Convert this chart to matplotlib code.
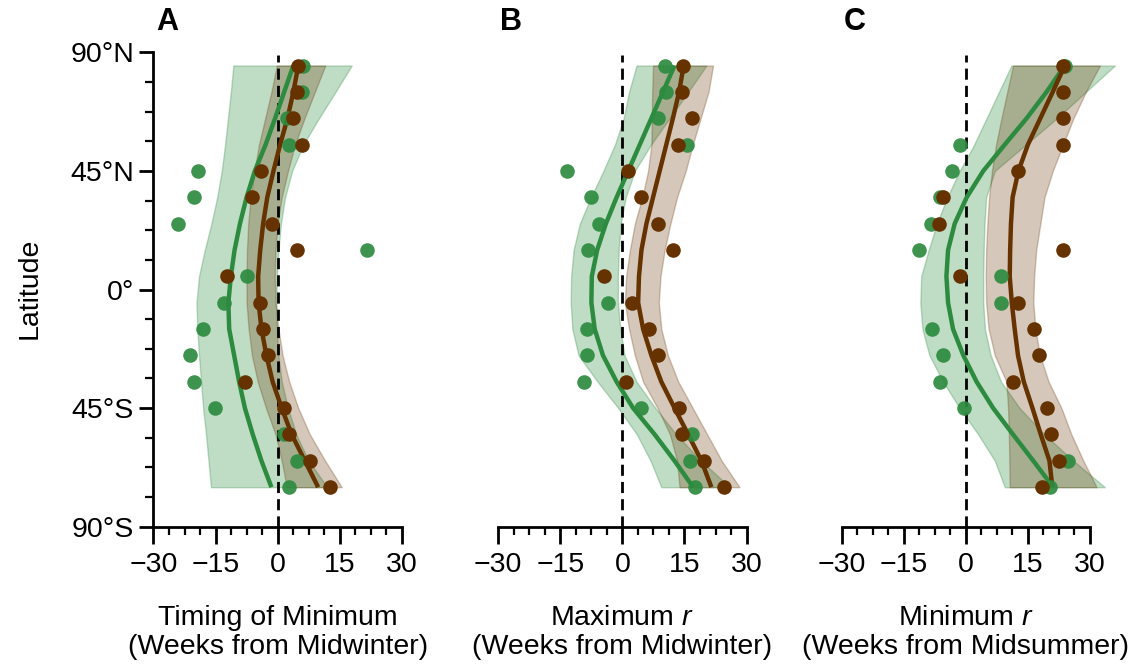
import numpy as np
import matplotlib.pyplot as plt

plt.rcParams['font.family'] = ['Liberation Sans', 'DejaVu Sans']
plt.rcParams['mathtext.fontset'] = 'custom'
plt.rcParams['mathtext.rm'] = 'Liberation Sans'
plt.rcParams['mathtext.it'] = 'Liberation Sans:italic'

nan = np.nan
lats = [85, 75, 65, 55, 45, 35, 25, 15, 5, -5, -15, -25, -35, -45, -55, -65, -75]

# A: timing of minimum
a_green_pts = [6.2, 6.0, 2.2, 2.8, -19.2, -20.1, -24.0, 21.5, -7.3, -12.9, -18.1, -21.2, -20.1, -15.1, 1.6, 4.6, 2.8]
a_brown_pts = [5.0, 4.6, 3.8, 5.8, -4.0, -6.1, -1.4, 4.6, -12.3, -4.3, -3.5, -2.3, -7.9, 1.5, 2.8, 7.8, 12.6]
a_green_fit = [3.8, 1.6, -0.6, -2.9, -5.5, -7.5, -9.1, -10.4, -11.3, -11.9, -11.7, -10.5, -9.3, -7.9, -6.0, -3.9, -1.5]
a_green_lo = [-10.7, -11.3, -12.0, -12.7, -13.5, -14.6, -16.0, -17.6, -19.0, -19.6, -19.4, -19.0, -18.5, -18.0, -17.3, -16.7, -16.1]
a_green_hi = [17.9, 14.0, 10.0, 6.2, 3.5, 1.8, 0.8, 0.2, -0.2, -0.3, -0.2, 0.2, 1.0, 2.5, 4.5, 7.5, 12.0]
a_brown_fit = [5.0, 3.8, 2.4, 0.6, -1.0, -2.5, -3.5, -4.2, -4.7, -4.6, -3.9, -2.7, -1.2, 1.0, 3.4, 6.6, 9.8]
a_brown_lo = [-0.2, -1.5, -3.0, -4.5, -5.6, -6.5, -7.1, -7.4, -7.5, -7.5, -7.0, -6.2, -4.8, -2.8, -0.5, 1.0, 2.2]
a_brown_hi = [11.5, 9.0, 6.5, 4.2, 2.5, 1.0, 0.0, -0.5, -0.7, -0.5, 0.2, 1.2, 2.8, 5.0, 7.8, 11.5, 15.5]

# B: maximum r
b_green_pts = [10.2, 10.6, 8.6, 15.5, -13.5, -7.5, -5.6, -8.3, nan, -3.5, -8.5, -8.5, -9.3, 4.4, 16.7, 16.4, 17.5]
b_brown_pts = [14.7, 14.5, 16.7, 13.4, 1.4, 4.6, 8.6, 12.2, -4.4, 2.4, 6.4, 8.6, 0.8, 13.6, 14.4, 19.6, 24.6]
b_green_fit = [12.6, 9.8, 7.0, 4.2, 1.4, -1.4, -4.0, -6.1, -7.4, -7.5, -6.7, -4.7, -1.4, 2.6, 7.8, 12.6, 17.1]
b_green_lo = [3.4, 1.6, 0.3, -1.8, -4.6, -7.6, -10.3, -11.8, -12.4, -12.5, -12.1, -10.6, -6.0, -1.0, 3.5, 6.8, 9.4]
b_green_hi = [20.3, 15.9, 11.4, 6.9, 3.0, 0.8, -0.4, -0.9, -1.1, -1.1, -0.5, 0.5, 3.4, 8.0, 13.0, 19.0, 26.0]
b_brown_fit = [14.8, 13.7, 12.2, 10.6, 9.0, 7.4, 5.8, 4.6, 4.0, 3.8, 5.0, 7.0, 9.4, 12.6, 15.9, 19.1, 21.5]
b_brown_lo = [7.4, 7.2, 7.1, 7.0, 6.2, 4.8, 3.0, 1.8, 0.9, 0.6, 1.6, 3.0, 5.0, 8.5, 11.5, 13.2, 13.8]
b_brown_hi = [21.9, 20.8, 18.9, 17.0, 15.3, 13.2, 11.6, 10.2, 9.2, 8.8, 9.4, 11.0, 13.5, 17.0, 20.5, 24.0, 28.3]

# C: minimum r
c_green_pts = [23.9, nan, nan, -1.3, -3.3, -6.3, -8.5, -11.3, 8.5, 8.5, -8.3, -5.5, -6.3, -0.4, nan, 24.6, 20.3]
c_brown_pts = [23.5, 23.5, 23.5, 23.5, 12.7, -5.5, -6.4, 23.5, -1.3, 12.7, 16.5, 17.6, 11.4, 19.5, 20.5, 22.6, 18.5]
c_green_fit = [23.9, 19.5, 14.7, 9.4, 4.2, 0.2, -2.7, -4.3, -4.7, -4.3, -3.1, -0.6, 2.6, 6.6, 11.4, 16.3, 21.1]
c_green_lo = [11.0, 8.0, 5.0, 2.0, -1.5, -4.5, -7.0, -9.0, -10.8, -11.0, -10.5, -8.8, -5.5, -1.5, 3.0, 7.0, 9.4]
c_green_hi = [36.0, 29.0, 22.0, 14.5, 7.0, 4.9, 4.5, 4.3, 4.2, 4.2, 4.6, 6.0, 8.5, 13.0, 19.0, 26.0, 33.6]
c_brown_fit = [23.9, 21.0, 18.0, 15.0, 12.7, 11.3, 10.9, 10.7, 10.6, 11.1, 11.8, 12.6, 14.0, 16.1, 18.1, 20.2, 20.9]
c_brown_lo = [11.4, 10.0, 8.6, 7.3, 6.3, 5.6, 5.2, 4.9, 4.8, 4.9, 5.5, 7.0, 9.8, 10.2, 10.4, 10.5, 10.6]
c_brown_hi = [32.4, 29.0, 26.0, 23.5, 21.0, 19.0, 18.0, 17.0, 16.5, 16.3, 16.8, 17.9, 20.0, 23.1, 25.5, 28.4, 31.6]

panels = [
    ('A', 'Timing of Minimum\n(Weeks from Midwinter)',
     a_green_pts, a_brown_pts, a_green_fit, a_green_lo, a_green_hi, a_brown_fit, a_brown_lo, a_brown_hi),
    ('B', 'Maximum $r$\n(Weeks from Midwinter)',
     b_green_pts, b_brown_pts, b_green_fit, b_green_lo, b_green_hi, b_brown_fit, b_brown_lo, b_brown_hi),
    ('C', 'Minimum $r$\n(Weeks from Midsummer)',
     c_green_pts, c_brown_pts, c_green_fit, c_green_lo, c_green_hi, c_brown_fit, c_brown_lo, c_brown_hi),
]

green = '#2d8b3f'
brown = '#653200'
fs = 20.5

fig = plt.figure(figsize=(11.41, 6.67), dpi=100)
lefts = [0.1345, 0.4367, 0.7377]
letter_x = [0.147, 0.448, 0.749]

for i, (letter, xlab, gp, bp, gf, glo, ghi, bf, blo, bhi) in enumerate(panels):
    ax = fig.add_axes([lefts[i], 0.2103, 0.243, 0.7112])
    ax.set_xlim(-30, 37)
    ax.set_ylim(-90, 90)

    ax.fill_betweenx(lats, glo, ghi, color=green, alpha=0.3, lw=1, zorder=1)
    ax.fill_betweenx(lats, blo, bhi, color=brown, alpha=0.27, lw=1, zorder=1)
    ax.vlines(0, -90, 89, colors='k', linestyles=(0, (4, 2.2)), lw=2, zorder=2)
    ax.plot(gf, lats, color=green, lw=3.2, zorder=3, solid_capstyle='butt')
    ax.plot(bf, lats, color=brown, lw=3.2, zorder=3, solid_capstyle='butt')
    ax.scatter(gp, lats, s=110, color=green, alpha=0.92, lw=0, zorder=4)
    ax.scatter(bp, lats, s=110, color=brown, lw=0, zorder=4)

    for s in ['top', 'right']:
        ax.spines[s].set_visible(False)
    ax.spines['bottom'].set_bounds(-30, 30)
    ax.spines['bottom'].set_linewidth(2)
    ax.spines['left'].set_linewidth(2)
    ax.set_xticks([-30, -15, 0, 15, 30])
    ax.set_xticks(np.arange(-30, 30.1, 3.75), minor=True)
    ax.tick_params(axis='x', which='major', length=12, width=2, labelsize=fs, pad=6)
    ax.tick_params(axis='x', which='minor', length=6, width=1.6)

    if i == 0:
        ax.set_yticks([-90, -45, 0, 45, 90])
        ax.set_yticklabels(['90°S', '45°S', '0°', '45°N', '90°N'])
        ax.set_yticks(np.arange(-90, 90.1, 11.25), minor=True)
        ax.tick_params(axis='y', which='major', length=10, width=2, labelsize=fs, pad=4)
        ax.tick_params(axis='y', which='minor', length=5.5, width=1.6)
    else:
        ax.spines['left'].set_visible(False)
        ax.set_yticks([])

    ax.text(0, -0.165, xlab, transform=ax.get_xaxis_transform(), ha='center', va='top',
            fontsize=fs, linespacing=1.15)
    fig.text(letter_x[i], 0.967, letter, ha='center', va='center', fontsize=22, fontweight='bold')

fig.text(0.026, 0.567, 'Latitude', rotation=90, ha='center', va='center', fontsize=fs)

fig.savefig('out.png', dpi=100)
